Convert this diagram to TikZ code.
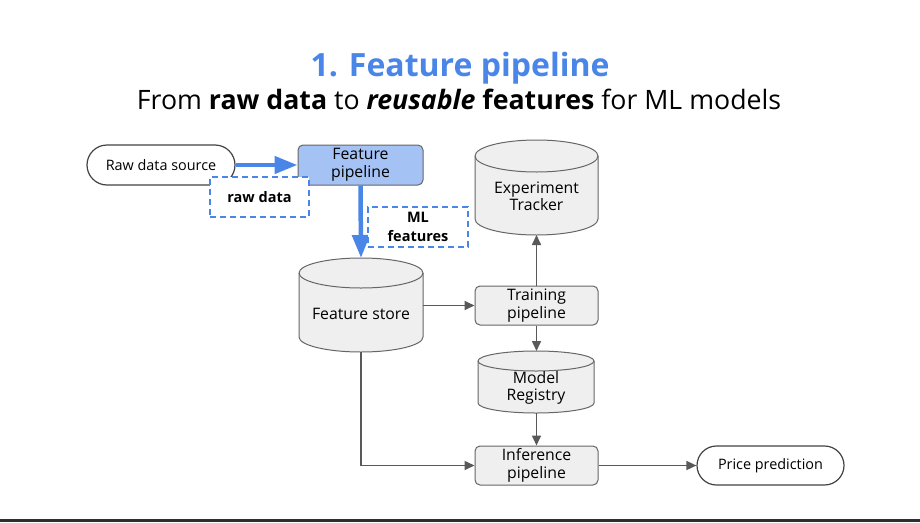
\documentclass[tikz,border=0pt]{standalone}
\usepackage{fontspec}
\setmainfont{Open Sans}
\usetikzlibrary{arrows.meta,shapes.misc}
\definecolor{tblue}{HTML}{4A86E8}
\definecolor{fpfill}{HTML}{A4C2F4}
\definecolor{lgray}{HTML}{EFEFEF}
\definecolor{dgray}{HTML}{595959}
\definecolor{bgray}{HTML}{666666}
\definecolor{pillgray}{HTML}{434343}
\tikzset{
  txt/.style={font=\fontsize{15.8}{17.5}\selectfont, align=center, text=black},
  pill/.style={txt, font=\fontsize{14.4}{17}\selectfont, rounded rectangle, draw=pillgray, line width=1.2pt, fill=white, inner sep=0pt},
  procbox/.style={txt, rectangle, rounded corners=5pt, draw=bgray, line width=1pt, fill=lgray, inner sep=0pt},
  fpbox/.style={procbox, fill=fpfill},
  dashbox/.style={txt, font=\fontsize{14.5}{18.5}\selectfont\bfseries, rectangle, draw=tblue, dash pattern=on 6pt off 4pt, line width=1.5pt, fill=white, inner sep=0pt},
  cylsty/.style={fill=lgray, draw=bgray, line width=1pt},
  cylanchor/.style={rectangle, inner sep=0pt, outer sep=0pt},
  bluearrow/.style={draw=tblue, line width=4.5pt, -{Triangle[length=23pt,width=17pt]}},
  grayarrow/.style={draw=dgray, line width=1.6pt, -{Triangle[length=10pt,width=9pt]}},
}
% #1 name, #2 cx, #3 cy, #4 width, #5 height, #6 ellipse y radius, #7 text
\newcommand\mycyl[7]{%
  \pgfmathsetmacro\cylhw{#4/2}%
  \pgfmathsetmacro\cylhh{#5/2}%
  \filldraw[cylsty] ({#2-\cylhw},{#3+\cylhh-#6}) -- ({#2-\cylhw},{#3-\cylhh+#6})
     arc[start angle=180,end angle=360,x radius=\cylhw,y radius=#6]
     -- ({#2+\cylhw},{#3+\cylhh-#6})
     arc[start angle=0,end angle=180,x radius=\cylhw,y radius=#6] -- cycle;
  \draw[cylsty, fill=none] ({#2-\cylhw},{#3+\cylhh-#6})
     arc[start angle=180,end angle=360,x radius=\cylhw,y radius=#6];
  \node[cylanchor, minimum width=#4, minimum height=#5] (#1) at (#2,#3) {};
  \node[txt] (#1-t) at ({#2},{#3-#6/2-1}) {#7};
}
\begin{document}
\begin{tikzpicture}[x=1pt,y=1pt]
\useasboundingbox (0,0) rectangle (920,-522);
\fill[white] (0,0) rectangle (920,-522);
\fill[black!82] (0,-519) rectangle (920,-522);

\node[font=\fontsize{32}{38}\selectfont\bfseries, text=tblue, anchor=base] (title) at (460,-76) {1. Feature pipeline};
\node[font=\fontsize{26.7}{32}\selectfont, anchor=base] (subtitle) at (459,-109)
  {From \textbf{raw data} to \textbf{\textit{reusable}} \textbf{features} for ML models};

% cylinders
\mycyl{fs}{361}{-305}{124}{94}{15}{Feature store}
\mycyl{et}{536.5}{-187.5}{123}{95}{16}{Experiment\\Tracker}
\mycyl{mr}{536}{-382}{116}{62}{10}{Model\\Registry}

% boxes
\node[pill, minimum width=148, minimum height=40] (rds) at (161,-165) {Raw data source};
\node[fpbox, minimum width=125, minimum height=40] (fp) at (360.5,-165) {Feature\\pipeline};
\node[procbox, minimum width=123, minimum height=39] (tp) at (536.5,-305.5) {Training\\pipeline};
\node[procbox, minimum width=123, minimum height=39] (ip) at (536.5,-465.5) {Inference\\pipeline};
\node[pill, minimum width=147, minimum height=39] (pp) at (770.5,-465.5) {Price prediction};

% connectors
\draw[bluearrow] (rds.east) -- (fp.west);
\draw[bluearrow] (fp.south) -- (fs.north);
\draw[grayarrow] (fs.east |- tp.west) -- (tp.west);
\draw[grayarrow] (tp.north) -- (tp.north |- et.south);
\draw[grayarrow] (tp.south) -- (tp.south |- mr.north);
\draw[grayarrow] (ip.north |- mr.south) -- (ip.north);
\draw[grayarrow] (fs.south) |- (ip.west);
\draw[grayarrow] (ip.east) -- (pp.west);

% labels
\node[dashbox, minimum width=99, minimum height=40] (rawd) at (259.5,-197) {raw data};
\node[dashbox, minimum width=100, minimum height=40] (mlf) at (418,-227) {ML\\features};
\end{tikzpicture}
\end{document}
